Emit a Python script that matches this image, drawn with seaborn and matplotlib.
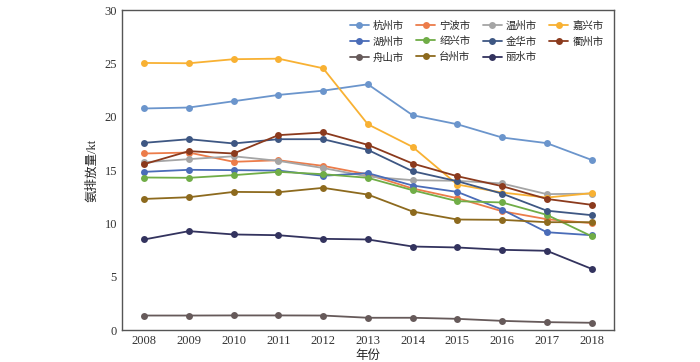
import numpy as np
import matplotlib
matplotlib.use('Agg')
import matplotlib.pyplot as plt
import seaborn as sns
import pandas as pd

years = [2008, 2009, 2010, 2011, 2012, 2013, 2014, 2015, 2016, 2017, 2018]

cities = ['杭州市', '宁波市', '温州市', '嘉兴市',
          '湖州市', '绍兴市', '金华市', '衢州市',
          '舟山市', '台州市', '丽水市']

hangzhou = [20.78, 20.87, 21.46, 22.05, 22.45, 23.05, 20.15, 19.3, 18.06, 17.53, 15.96]
ningbo = [16.56, 16.65, 15.78, 15.93, 15.4, 14.6, 13.28, 12.37, 11.15, 10.4, 10.03]
wenzhou = [15.74, 16.03, 16.3, 15.87, 15.2, 14.4, 14.06, 14.0, 13.75, 12.75, 12.8]
jiaxing = [25.05, 25.02, 25.4, 25.45, 24.55, 19.3, 17.18, 13.65, 12.9, 12.43, 12.84]
huzhou = [14.84, 15.03, 15.0, 14.96, 14.47, 14.72, 13.56, 12.96, 11.3, 9.18, 8.9]
shaoxing = [14.31, 14.28, 14.53, 14.84, 14.62, 14.28, 13.12, 12.09, 11.97, 10.81, 8.81]
jinhua = [17.56, 17.9, 17.5, 17.9, 17.9, 16.9, 14.9, 13.96, 12.8, 11.2, 10.78]
quzhou = [15.56, 16.78, 16.56, 18.28, 18.53, 17.37, 15.62, 14.43, 13.5, 12.3, 11.75]
zhoushan = [1.37, 1.37, 1.38, 1.38, 1.37, 1.16, 1.16, 1.06, 0.87, 0.75, 0.69]
taizhou = [12.3, 12.46, 12.96, 12.93, 13.34, 12.71, 11.12, 10.37, 10.34, 10.12, 10.12]
lishui = [8.5, 9.28, 8.97, 8.9, 8.56, 8.5, 7.84, 7.75, 7.53, 7.44, 5.75]

series = [hangzhou, ningbo, wenzhou, jiaxing, huzhou, shaoxing,
          jinhua, quzhou, zhoushan, taizhou, lishui]

colors = ['#6b95cc', '#ec7c4a', '#a5a5a5', '#f8b133',
          '#4a6cb8', '#70ad47', '#3e5783', '#8b3a1d',
          '#665a5a', '#8d6a1e', '#33335e']

rows = []
for city, vals in zip(cities, series):
    for yr, v in zip(years, vals):
        rows.append({'year': yr, 'value': v, 'city': city})
df = pd.DataFrame(rows)

sns.set_style('white')
plt.rcParams['font.family'] = ['Liberation Serif', 'Noto Sans CJK SC']
plt.rcParams['axes.unicode_minus'] = False

fig = plt.figure(figsize=(7, 3.62), dpi=100)
ax = fig.add_axes([0.174, 0.088, 0.703, 0.884])

sns.lineplot(data=df, x='year', y='value', hue='city', hue_order=cities,
             palette=colors, marker='o', markersize=5, markeredgewidth=0,
             linewidth=1.3, ax=ax, legend=True)

ax.set_xlim(2007.5, 2018.5)
ax.set_ylim(0, 30)
ax.set_xticks(years)
ax.set_yticks(range(0, 31, 5))
ax.tick_params(direction='in', length=4, labelsize=9, colors='#333333', width=0.8)
for s in ax.spines.values():
    s.set_color('#555555')
    s.set_linewidth(1.0)
ax.set_xlabel('年份', fontsize=9, labelpad=2)
ax.set_ylabel('氨排放量/kt', fontsize=9)

# legend filled row by row, like the original
handles, labels = ax.get_legend_handles_labels()
order = [0, 4, 8, 1, 5, 9, 2, 6, 10, 3, 7]
ax.legend([handles[i] for i in order], [labels[i] for i in order],
          loc='upper right', ncol=4, frameon=False, fontsize=7.5,
          handlelength=1.8, handletextpad=0.4, columnspacing=1.2,
          labelspacing=0.55, borderaxespad=0.6)

fig.savefig('out.png', dpi=100)
